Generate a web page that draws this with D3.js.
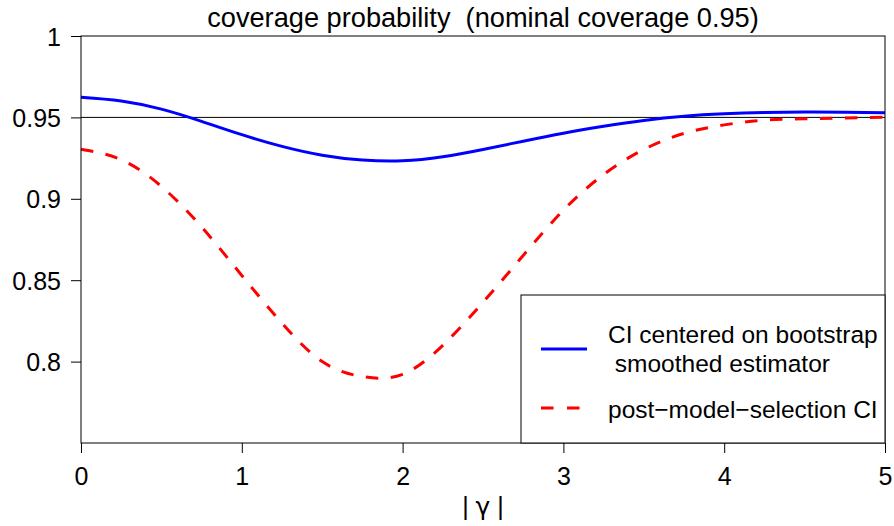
<!DOCTYPE html>
<html>
<head>
<meta charset="utf-8">
<script src="https://cdn.jsdelivr.net/npm/d3@7"></script>
<style>
  body { margin: 0; background: #fff; }
  text { font-family: "Liberation Sans", Arial, sans-serif; fill: #000; }
</style>
</head>
<body>
<div id="chart"></div>
<script>
// values
var gammaAbs = [0, 0.25, 0.5, 0.75, 1, 1.25, 1.5, 1.75, 2, 2.25, 2.5, 2.75, 3,
                3.25, 3.5, 3.75, 4, 4.25, 4.5, 4.75, 5];
var bootSmoothed = [0.9624, 0.9601, 0.9551, 0.9476, 0.9394, 0.9322, 0.9268, 0.9238,
                    0.9233, 0.9258, 0.9303, 0.9354, 0.9403, 0.9445, 0.9481, 0.9507,
                    0.9522, 0.9530, 0.9533, 0.9532, 0.9529];
var postSelection = [0.9304, 0.9240, 0.9076, 0.8827, 0.8529, 0.8236, 0.8000, 0.7908,
                     0.7922, 0.8100, 0.8364, 0.8652, 0.8930, 0.9149, 0.9303, 0.9402,
                     0.9454, 0.9483, 0.9492, 0.9497, 0.9501];
var nominal = 0.95;
var xTicks = [0, 1, 2, 3, 4, 5];
var yTicks = [0.8, 0.85, 0.9, 0.95, 1];
var legendLabels = [["CI centered on bootstrap", " smoothed estimator"], ["post\u2212model\u2212selection CI"]];

var width = 894, height = 526;
var mLeft = 81, mRight = 885, mTop = 36, mBottom = 443;
var fontSize = 25;

var svg = d3.select("#chart")
    .append("svg")
    .attr("width", width)
    .attr("height", height);

var x = d3.scaleLinear().domain([0, 5]).range([mLeft, mRight]);
var y = d3.scaleLinear().domain([0.75, 1]).range([mBottom, mTop]);

// nominal coverage reference line
svg.append("line")
    .attr("x1", mLeft).attr("x2", mRight)
    .attr("y1", y(nominal)).attr("y2", y(nominal))
    .attr("stroke", "#000").attr("stroke-width", 1);

var line = d3.line()
    .x((d, i) => x(gammaAbs[i]))
    .y(d => y(d))
    .curve(d3.curveNatural);

svg.append("path")
    .datum(bootSmoothed)
    .attr("d", line)
    .attr("fill", "none")
    .attr("stroke", "#0000ff")
    .attr("stroke-width", 3);

svg.append("path")
    .datum(postSelection)
    .attr("d", line)
    .attr("fill", "none")
    .attr("stroke", "#ff0000")
    .attr("stroke-width", 3)
    .attr("stroke-dasharray", "12.5,12.5");

// axes
var xAxis = svg.append("g")
    .attr("transform", "translate(0," + mBottom + ")")
    .call(d3.axisBottom(x).tickValues(xTicks).tickFormat(d3.format("d")).tickSize(10).tickPadding(8));
var yAxis = svg.append("g")
    .attr("transform", "translate(" + mLeft + ",0)")
    .call(d3.axisLeft(y).tickValues(yTicks).tickFormat(d => String(d)).tickSize(10).tickPadding(10));

[xAxis, yAxis].forEach(function(g) {
    g.select(".domain").remove();
    g.selectAll("line").attr("stroke", "#000");
    g.selectAll("text")
        .style("font-family", '"Liberation Sans", Arial, sans-serif')
        .style("font-size", fontSize + "px")
        .attr("fill", "#000");
});
yAxis.selectAll("text").attr("dy", "0.36em");
xAxis.selectAll("text").attr("dy", "0.95em");

// plot frame
svg.append("rect")
    .attr("x", mLeft).attr("y", mTop)
    .attr("width", mRight - mLeft).attr("height", mBottom - mTop)
    .attr("fill", "none").attr("stroke", "#000").attr("stroke-width", 1);

// legend
var lg = svg.append("g");
lg.append("rect")
    .attr("x", 521).attr("y", 295)
    .attr("width", mRight - 521).attr("height", mBottom - 295)
    .attr("fill", "#fff").attr("stroke", "#000").attr("stroke-width", 1);

lg.append("line")
    .attr("x1", 541).attr("x2", 587).attr("y1", 349).attr("y2", 349)
    .attr("stroke", "#0000ff").attr("stroke-width", 3);
lg.append("line")
    .attr("x1", 541).attr("x2", 587).attr("y1", 408).attr("y2", 408)
    .attr("stroke", "#ff0000").attr("stroke-width", 3)
    .attr("stroke-dasharray", "12.5,13.5");

lg.append("text").attr("x", 608).attr("y", 343)
    .style("font-size", "24.5px")
    .text(legendLabels[0][0]);
lg.append("text").attr("x", 608).attr("y", 372)
    .style("font-size", "24.5px").style("white-space", "pre")
    .text(legendLabels[0][1]);
lg.append("text").attr("x", 608).attr("y", 418)
    .style("font-size", "24.5px")
    .text(legendLabels[1][0]);

// titles
svg.append("text")
    .attr("x", (mLeft + mRight) / 2).attr("y", 27)
    .attr("text-anchor", "middle")
    .style("font-size", "27.2px").style("white-space", "pre")
    .text("coverage probability  (nominal coverage 0.95)");

var xl = svg.append("text")
    .attr("x", 483).attr("y", 515)
    .attr("text-anchor", "middle")
    .style("font-size", fontSize + "px").style("white-space", "pre");
xl.append("tspan").text("| ");
xl.append("tspan").style("font-family", '"DejaVu Sans", sans-serif').text("\u03b3");
xl.append("tspan").text(" |");
</script>
</body>
</html>
